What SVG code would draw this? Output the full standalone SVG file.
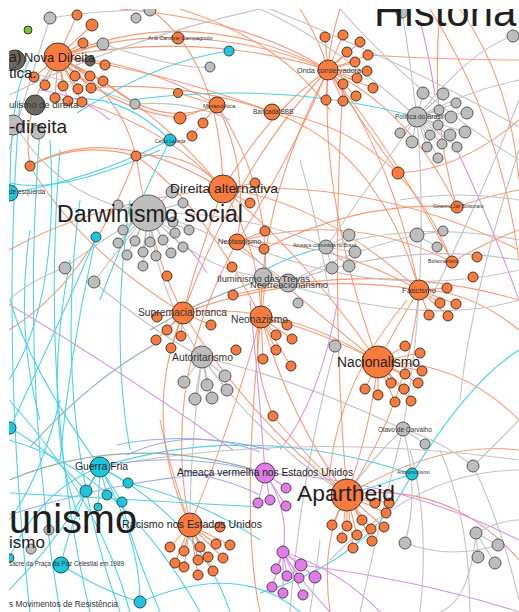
<svg xmlns="http://www.w3.org/2000/svg" width="519" height="612" viewBox="0 0 519 612">
<defs>
<clipPath id="cp"><rect x="9" y="9" width="510" height="603"/></clipPath>
<style>
.e path{fill:none;stroke-width:1.1}
.o{stroke:#f8885e;opacity:.85}
.r{stroke:#f07878;opacity:.85}
.g{stroke:#c2c2c2}
.c{stroke:#4dd2e8}
.p{stroke:#d495e2}
.b{stroke:#96aaf0}
.t{stroke:#8fb0a6}
circle{stroke-width:1}
.no{fill:#f97b3d;stroke:#4a3426}
.ng{fill:#bdbdbd;stroke:#555}
.nc{fill:#1cc6dc;stroke:#264f57}
.np{fill:#e07ce6;stroke:#5b3a5e}
.nd{fill:#6f675f;stroke:#333}
.nv{fill:#75c62a;stroke:#334}
text{font-family:"Liberation Sans",Arial,sans-serif;fill:#1e1e1e}
.s{fill:#333}
</style>
</defs>
<rect width="519" height="612" fill="#fff"/>
<g clip-path="url(#cp)">
<g id="connectors" class="e">
<!-- orange -->
<path class="o" d="M58 57 Q190 0 328 70"/>
<path class="o" d="M58 57 Q200 30 328 70"/>
<path class="o" d="M58 57 Q140 60 217 105"/>
<path class="o" d="M58 57 Q160 70 272 112"/>
<path class="o" d="M58 57 Q120 35 178 38"/>
<path class="o" d="M58 57 Q150 100 223 189"/>
<path class="o" d="M58 57 Q110 110 180 118"/>
<path class="o" d="M90 88 Q180 80 272 112"/>
<path class="o" d="M103 81 Q160 130 217 105"/>
<path class="o" d="M82 102 Q170 130 223 189"/>
<path class="o" d="M30 166 Q110 120 223 189"/>
<path class="o" d="M30 166 Q80 250 183 313"/>
<path class="o" d="M136 156 Q190 150 223 189"/>
<path class="o" d="M136 156 Q150 250 183 313"/>
<path class="o" d="M136 156 Q200 200 261 317"/>
<path class="o" d="M328 70 Q270 110 223 189"/>
<path class="o" d="M328 70 Q290 160 237 242"/>
<path class="o" d="M328 70 Q320 200 378 362"/>
<path class="o" d="M328 70 Q390 150 419 290"/>
<path class="o" d="M328 70 Q410 110 457 207"/>
<path class="o" d="M328 70 Q400 160 452 262"/>
<path class="o" d="M328 70 Q360 120 398 173"/>
<path class="o" d="M328 70 Q260 200 261 317"/>
<path class="o" d="M328 70 Q240 160 183 313"/>
<path class="o" d="M343 84 Q330 300 347 495"/>
<path class="o" d="M217 105 Q250 170 237 242"/>
<path class="o" d="M217 105 Q280 200 261 317"/>
<path class="o" d="M272 112 Q400 130 452 262"/>
<path class="o" d="M272 112 Q380 150 419 290"/>
<path class="o" d="M223 189 Q200 250 183 313"/>
<path class="o" d="M223 189 Q260 250 261 317"/>
<path class="o" d="M223 189 Q300 250 378 362"/>
<path class="o" d="M223 189 Q320 200 419 290"/>
<path class="o" d="M223 189 Q380 180 519 250"/>
<path class="o" d="M237 242 Q330 240 419 290"/>
<path class="o" d="M237 242 Q300 300 378 362"/>
<path class="o" d="M183 313 Q280 300 378 362"/>
<path class="o" d="M183 313 Q250 420 347 495"/>
<path class="o" d="M183 313 Q140 420 190 525"/>
<path class="o" d="M261 317 Q320 330 378 362"/>
<path class="o" d="M261 317 Q230 430 190 525"/>
<path class="o" d="M261 317 Q290 420 347 495"/>
<path class="o" d="M378 362 Q370 430 347 495"/>
<path class="o" d="M378 362 Q400 320 419 290"/>
<path class="o" d="M419 290 Q410 400 347 495"/>
<path class="o" d="M419 290 Q470 290 519 330"/>
<path class="o" d="M452 262 Q490 240 519 230"/>
<path class="o" d="M457 207 Q490 195 519 190"/>
<path class="o" d="M378 362 Q460 360 519 420"/>
<path class="o" d="M460 9 Q510 80 519 180"/>
<path class="o" d="M430 9 Q500 120 519 260"/>
<path class="o" d="M407 300 Q340 380 330 470"/>
<path class="o" d="M190 525 Q160 380 237 242"/>
<path class="o" d="M30 166 Q80 140 136 156"/>
<path class="o" d="M273 416 Q250 360 261 317"/>
<path class="o" d="M273 416 Q310 460 347 495"/>
<path class="o" d="M120 9 Q250 20 328 70"/>
<path class="o" d="M180 9 Q280 40 330 110"/>
<path class="o" d="M58 57 Q20 110 30 166"/>
<path class="o" d="M150 9 Q220 60 223 189"/>
<path class="o" d="M237 242 Q350 210 452 262"/>
<path class="o" d="M183 313 Q300 270 419 290"/>
<path class="o" d="M264 249 Q360 200 457 207"/>
<path class="o" d="M233 295 Q380 260 519 300"/>
<path class="o" d="M9 250 Q100 200 223 189"/>
<path class="o" d="M9 330 Q90 280 136 156"/>
<path class="o" d="M330 612 Q320 540 347 495"/>
<path class="o" d="M260 612 Q240 520 261 317"/>
<path class="o" d="M190 525 Q170 470 160 420"/>
<path class="o" d="M398 173 Q460 170 519 120"/>
<path class="o" d="M368 55 Q450 60 519 60"/>
<path class="o" d="M440 9 Q430 120 457 207"/>
<path class="o" d="M300 9 Q320 40 328 70"/>
<path class="o" d="M340 9 Q330 40 328 70"/>
<path class="o" d="M347 495 Q440 440 519 450"/>
<path class="r" d="M347 495 Q450 480 519 560"/>
<path class="o" d="M136 156 Q120 90 58 57"/>
<path class="o" d="M178 38 Q260 40 328 70"/>
<!-- orange spokes -->
<path class="o" d="M58 57L77 15M58 57L92 25M58 57L83 43M58 57L105 65M58 57L34 77M58 57L45 85M58 57L75 76M58 57L90 76M58 57L63 86M58 57L78 89M58 57L91 88M58 57L103 81M58 57L55 98M58 57L68 101M58 57L82 102M58 57L90 61M58 57L103 44"/>
<path class="o" d="M328 70L325 37M328 70L343 35M328 70L360 42M328 70L347 52M328 70L368 55M328 70L355 62M328 70L367 71M328 70L357 78M328 70L343 84M328 70L373 88M328 70L356 96M328 70L326 100M328 70L343 101"/>
<path class="o" d="M183 313L157 317M183 313L167 330M183 313L181 336M183 313L156 340M183 313L171 348M183 313L211 325"/>
<path class="o" d="M261 317L287 325M261 317L276 335M261 317L292 339M261 317L276 350M261 317L263 359M261 317L291 366"/>
<path class="o" d="M378 362L405 346M378 362L420 353M378 362L405 374M378 362L422 371M378 362L418 383M378 362L391 383M378 362L404 389M378 362L365 389M378 362L378 395M378 362L395 402M378 362L411 401"/>
<path class="o" d="M419 290L440 303M419 290L456 304M419 290L429 315M419 290L448 316M419 290L447 288"/>
<path class="o" d="M190 525L220 527M190 525L170 547M190 525L184 551M190 525L200 547M190 525L216 544M190 525L230 545M190 525L175 563M190 525L184 567M190 525L198 560M190 525L208 557M190 525L223 558M190 525L213 571M190 525L198 575"/>
<path class="o" d="M347 495L375 503M347 495L389 503M347 495L386 513M347 495L362 520M347 495L347 526M347 495L332 525M347 495L371 529M347 495L384 527M347 495L357 535M347 495L342 538M347 495L372 541M347 495L353 548"/>
<path class="o" d="M237 242L265 231M237 242L264 249M223 189L255 183M223 189L250 203M217 105L203 123M217 105L192 136M217 105L180 118M217 105L178 93"/>
<!-- gray -->
<path class="g" d="M148 213 Q220 230 288 283"/>
<path class="g" d="M148 213 Q200 270 263 277"/>
<path class="g" d="M148 213 Q160 300 202 357"/>
<path class="g" d="M148 213 Q240 210 326 247"/>
<path class="g" d="M148 213 Q100 240 65 268"/>
<path class="g" d="M148 213 Q110 260 94 282"/>
<path class="g" d="M15 125 Q60 200 148 213"/>
<path class="g" d="M417 117 Q380 170 326 247"/>
<path class="g" d="M417 117 Q430 280 403 429"/>
<path class="g" d="M417 117 Q470 90 519 80"/>
<path class="g" d="M417 117 Q330 40 260 9"/>
<path class="g" d="M260 5 Q400 60 519 127"/>
<path class="g" d="M202 357 Q300 380 403 429"/>
<path class="g" d="M202 357 Q260 440 347 495"/>
<path class="g" d="M202 357 Q190 450 190 525"/>
<path class="g" d="M288 283 Q400 240 519 260"/>
<path class="g" d="M288 283 Q350 250 417 235"/>
<path class="g" d="M263 277 Q420 330 519 300"/>
<path class="g" d="M326 247 Q420 220 519 240"/>
<path class="g" d="M403 429 Q370 460 347 495"/>
<path class="g" d="M403 429 Q440 440 473 466"/>
<path class="g" d="M403 429 Q420 490 405 543"/>
<path class="g" d="M405 543 Q450 560 498 545"/>
<path class="g" d="M476 533 Q500 520 519 520"/>
<path class="g" d="M440 450 Q470 520 470 612"/>
<path class="g" d="M410 450 Q430 520 420 612"/>
<path class="g" d="M320 540 Q315 580 310 612"/>
<path class="g" d="M519 100 Q480 200 430 300"/>
<path class="g" d="M519 150 Q470 300 460 400"/>
<path class="g" d="M9 95 Q120 40 260 9"/>
<path class="g" d="M9 70 Q80 80 135 104"/>
<path class="g" d="M94 282 Q150 330 202 357"/>
<path class="g" d="M65 268 Q30 280 9 300"/>
<path class="g" d="M260 250 Q390 300 519 270"/>
<path class="g" d="M300 160 Q320 230 330 300"/>
<path class="g" d="M473 466 Q500 440 519 420"/>
<path class="g" d="M473 466 Q500 520 519 600"/>
<path class="g" d="M360 612 Q380 520 403 429"/>
<path class="g" d="M290 612 Q300 480 335 346"/>
<path class="g" d="M9 150 Q30 80 50 18"/>
<path class="g" d="M50 18 Q100 10 150 10"/>
<path class="g" d="M103 44 Q180 70 210 67"/>
<path class="g" d="M135 104 Q190 100 230 120"/>
<path class="g" d="M513 36 Q470 50 417 117"/>
<path class="g" d="M402 12 Q410 60 417 117"/>
<path class="g" d="M340 9 Q420 100 519 160"/>
<path class="g" d="M400 200 Q460 190 519 200"/>
<path class="g" d="M330 560 Q420 470 519 470"/>
<path class="g" d="M476 533 Q470 600 440 612"/>
<path class="g" d="M100 467 Q300 430 519 460"/>
<!-- gray spokes -->
<path class="g" d="M148 213L172 192M148 213L118 205M148 213L183 203M148 213L173 222M148 213L189 230M148 213L123 230M148 213L175 233M148 213L118 243M148 213L135 241M148 213L150 242M148 213L163 240M148 213L183 247M148 213L127 255M148 213L143 252M148 213L156 256M148 213L171 253M148 213L143 266"/>
<path class="g" d="M417 117L423 93M417 117L443 94M417 117L456 103M417 117L439 110M417 117L467 113M417 117L451 117M417 117L438 125M417 117L400 133M417 117L412 142M417 117L430 135M417 117L450 135M417 117L465 132M417 117L427 147M417 117L442 144M417 117L457 147M417 117L438 158"/>
<path class="g" d="M202 357L184 382M202 357L207 385M202 357L225 376M202 357L227 390M202 357L195 399M202 357L212 398"/>
<path class="g" d="M326 247L349 235M326 247L355 252M326 247L332 268M326 247L349 266M417 235L443 231M417 235L437 247M476 533L498 545M476 533L478 557M476 533L495 563M403 429L425 444"/>
<!-- cyan -->
<path class="c" d="M20 100 Q0 350 30 612"/>
<path class="c" d="M40 130 Q20 380 60 612"/>
<path class="c" d="M60 150 Q40 400 90 612"/>
<path class="c" d="M80 200 Q50 420 120 612"/>
<path class="c" d="M96 237 Q70 350 60 460"/>
<path class="c" d="M96 237 Q70 300 10 428"/>
<path class="c" d="M100 467 Q30 370 10 300"/>
<path class="c" d="M100 467 Q40 490 9 558"/>
<path class="c" d="M100 467 Q140 540 140 602"/>
<path class="c" d="M100 467 Q70 520 61 565"/>
<path class="c" d="M170 140 Q90 180 10 193"/>
<path class="c" d="M77 113 Q160 60 229 51"/>
<path class="c" d="M130 100 Q280 80 417 117"/>
<path class="c" d="M10 183 Q60 195 160 150"/>
<path class="c" d="M170 140 Q130 220 100 300"/>
<path class="c" d="M260 273 Q290 255 326 247"/>
<path class="c" d="M412 474 Q470 380 519 350"/>
<path class="c" d="M412 474 Q370 560 260 593"/>
<path class="c" d="M412 474 Q380 485 347 495"/>
<path class="c" d="M10 493 Q130 500 260 507"/>
<path class="c" d="M100 467 Q250 420 412 474"/>
<path class="c" d="M61 565 Q100 590 140 602"/>
<path class="c" d="M9 440 Q120 470 200 612"/>
<path class="c" d="M100 467 Q200 520 230 612"/>
<path class="c" d="M9 400 Q100 500 130 612"/>
<path class="c" d="M30 60 Q10 90 10 193"/>
<path class="c" d="M50 140 Q60 300 9 380"/>
<path class="c" d="M130 200 Q110 340 130 450"/>
<path class="c" d="M10 428 Q50 450 86 491"/>
<path class="c" d="M128 483 Q200 500 260 540"/>
<path class="c" d="M9 590 Q60 540 100 467"/>
<path class="c" d="M160 612 Q130 540 122 502"/>
<path class="c" d="M140 602 Q240 560 300 612"/>
<path class="c" d="M170 140 Q120 90 60 100"/>
<path class="c" d="M30 230 Q15 330 40 420"/>
<path class="c" d="M70 260 Q40 420 80 520"/>
<path class="c" d="M9 520 Q40 480 60 400"/>
<path class="c" d="M100 467L86 491M100 467L128 483M100 467L107 495M100 467L122 502M100 467L98 507"/>
<!-- purple -->
<path class="p" d="M7 303 Q120 370 233 450"/>
<path class="p" d="M420 20 Q430 60 435 95"/>
<path class="p" d="M338 300 Q320 400 280 450"/>
<path class="p" d="M265 473 Q400 480 519 540"/>
<path class="p" d="M265 473 Q290 510 283 552"/>
<path class="p" d="M283 552 Q340 570 380 612"/>
<path class="p" d="M283 552 Q300 580 330 612"/>
<path class="p" d="M301 565 Q420 580 519 612"/>
<path class="p" d="M457 150 Q490 220 519 300"/>
<path class="p" d="M187 247 Q200 260 207 273"/>
<path class="p" d="M250 300 Q260 400 265 473"/>
<path class="p" d="M40 90 Q80 95 110 120"/>
<path class="p" d="M283 552L301 565M283 552L276 569M283 552L287 576M283 552L299 578M283 552L315 577M283 552L272 587M283 552L283 593M283 552L303 595M265 473L286 488M265 473L258 503M265 473L270 500M265 473L286 506"/>
<!-- blue -->
<path class="b" d="M127 455 Q190 425 260 452"/>
<path class="b" d="M117 445 Q190 430 270 450"/>
<path class="b" d="M100 467 Q180 450 265 473"/>
<path class="b" d="M180 470 Q230 480 260 495"/>
<path class="b" d="M9 515 Q150 470 265 473"/>
<!-- gray-green -->
<path class="t" d="M30 447 Q90 380 157 343"/>
<path class="t" d="M9 480 Q130 430 265 473"/>
<path class="t" d="M260 280 Q200 300 150 330"/>
</g>
<g id="nodes">
<g id="n-o1"><circle class="no" cx="77" cy="15" r="5"/></g>
<g id="n-o2"><circle class="no" cx="92" cy="25" r="6"/></g>
<g id="n-o3"><circle class="no" cx="83" cy="43" r="5"/></g>
<g id="n-o4"><circle class="no" cx="105" cy="65" r="5"/></g>
<g id="n-o5"><circle class="no" cx="34" cy="77" r="5"/></g>
<g id="n-o6"><circle class="no" cx="45" cy="85" r="5"/></g>
<g id="n-o7"><circle class="no" cx="75" cy="76" r="5"/></g>
<g id="n-o8"><circle class="no" cx="90" cy="76" r="5"/></g>
<g id="n-o9"><circle class="no" cx="63" cy="86" r="5"/></g>
<g id="n-o10"><circle class="no" cx="78" cy="89" r="5"/></g>
<g id="n-o11"><circle class="no" cx="91" cy="88" r="5"/></g>
<g id="n-o12"><circle class="no" cx="103" cy="81" r="5"/></g>
<g id="n-o13"><circle class="no" cx="55" cy="98" r="5"/></g>
<g id="n-o14"><circle class="no" cx="68" cy="101" r="5"/></g>
<g id="n-o15"><circle class="no" cx="82" cy="102" r="5"/></g>
<g id="n-o16"><circle class="no" cx="178" cy="93" r="4.5"/></g>
<g id="n-o17"><circle class="no" cx="180" cy="118" r="6"/></g>
<g id="n-o18"><circle class="no" cx="203" cy="123" r="5"/></g>
<g id="n-o19"><circle class="no" cx="192" cy="136" r="5"/></g>
<g id="n-o20"><circle class="no" cx="325" cy="37" r="5"/></g>
<g id="n-o21"><circle class="no" cx="343" cy="35" r="5"/></g>
<g id="n-o22"><circle class="no" cx="360" cy="42" r="5"/></g>
<g id="n-o23"><circle class="no" cx="347" cy="52" r="5"/></g>
<g id="n-o24"><circle class="no" cx="368" cy="55" r="5"/></g>
<g id="n-o25"><circle class="no" cx="355" cy="62" r="5"/></g>
<g id="n-o26"><circle class="no" cx="367" cy="71" r="5"/></g>
<g id="n-o27"><circle class="no" cx="357" cy="78" r="5"/></g>
<g id="n-o28"><circle class="no" cx="343" cy="84" r="5"/></g>
<g id="n-o29"><circle class="no" cx="373" cy="88" r="5"/></g>
<g id="n-o30"><circle class="no" cx="356" cy="96" r="5"/></g>
<g id="n-o31"><circle class="no" cx="326" cy="100" r="5"/></g>
<g id="n-o32"><circle class="no" cx="343" cy="101" r="5"/></g>
<g id="n-o33"><circle class="no" cx="30" cy="166" r="5"/></g>
<g id="n-o34"><circle class="no" cx="136" cy="156" r="5"/></g>
<g id="n-o35"><circle class="no" cx="255" cy="183" r="5"/></g>
<g id="n-o36"><circle class="no" cx="250" cy="203" r="5"/></g>
<g id="n-o37"><circle class="no" cx="265" cy="231" r="5"/></g>
<g id="n-o38"><circle class="no" cx="264" cy="249" r="5"/></g>
<g id="n-o39"><circle class="no" cx="232" cy="267" r="5"/></g>
<g id="n-o40"><circle class="no" cx="167" cy="276" r="5"/></g>
<g id="n-o41"><circle class="no" cx="233" cy="295" r="5"/></g>
<g id="n-o42"><circle class="no" cx="398" cy="173" r="6"/></g>
<g id="n-o44"><circle class="no" cx="477" cy="257" r="5"/></g>
<g id="n-o45"><circle class="no" cx="473" cy="277" r="5"/></g>
<g id="n-o46"><circle class="no" cx="447" cy="288" r="5"/></g>
<g id="n-o47"><circle class="no" cx="157" cy="317" r="5"/></g>
<g id="n-o48"><circle class="no" cx="167" cy="330" r="5"/></g>
<g id="n-o49"><circle class="no" cx="181" cy="336" r="5"/></g>
<g id="n-o50"><circle class="no" cx="156" cy="340" r="5"/></g>
<g id="n-o51"><circle class="no" cx="171" cy="348" r="5"/></g>
<g id="n-o52"><circle class="no" cx="211" cy="325" r="5"/></g>
<g id="n-o53"><circle class="no" cx="236" cy="350" r="5"/></g>
<g id="n-o54"><circle class="no" cx="287" cy="325" r="5"/></g>
<g id="n-o55"><circle class="no" cx="276" cy="335" r="5"/></g>
<g id="n-o56"><circle class="no" cx="292" cy="339" r="5"/></g>
<g id="n-o57"><circle class="no" cx="276" cy="350" r="5"/></g>
<g id="n-o58"><circle class="no" cx="263" cy="359" r="5"/></g>
<g id="n-o59"><circle class="no" cx="291" cy="366" r="5"/></g>
<g id="n-o60"><circle class="no" cx="440" cy="303" r="5"/></g>
<g id="n-o61"><circle class="no" cx="456" cy="304" r="5"/></g>
<g id="n-o62"><circle class="no" cx="429" cy="315" r="5"/></g>
<g id="n-o63"><circle class="no" cx="448" cy="316" r="5"/></g>
<g id="n-o64"><circle class="no" cx="405" cy="346" r="5"/></g>
<g id="n-o65"><circle class="no" cx="420" cy="353" r="5"/></g>
<g id="n-o66"><circle class="no" cx="405" cy="374" r="5"/></g>
<g id="n-o67"><circle class="no" cx="422" cy="371" r="5"/></g>
<g id="n-o68"><circle class="no" cx="418" cy="383" r="5"/></g>
<g id="n-o69"><circle class="no" cx="391" cy="383" r="5"/></g>
<g id="n-o70"><circle class="no" cx="404" cy="389" r="5"/></g>
<g id="n-o71"><circle class="no" cx="365" cy="389" r="5"/></g>
<g id="n-o72"><circle class="no" cx="378" cy="395" r="5"/></g>
<g id="n-o73"><circle class="no" cx="395" cy="402" r="5"/></g>
<g id="n-o74"><circle class="no" cx="411" cy="401" r="5"/></g>
<g id="n-o75"><circle class="no" cx="273" cy="416" r="5"/></g>
<g id="n-o76"><circle class="no" cx="220" cy="527" r="5"/></g>
<g id="n-o77"><circle class="no" cx="170" cy="547" r="5"/></g>
<g id="n-o78"><circle class="no" cx="184" cy="551" r="5"/></g>
<g id="n-o79"><circle class="no" cx="200" cy="547" r="5"/></g>
<g id="n-o80"><circle class="no" cx="216" cy="544" r="5"/></g>
<g id="n-o81"><circle class="no" cx="230" cy="545" r="5"/></g>
<g id="n-o82"><circle class="no" cx="175" cy="563" r="5"/></g>
<g id="n-o83"><circle class="no" cx="184" cy="567" r="5"/></g>
<g id="n-o84"><circle class="no" cx="198" cy="560" r="5"/></g>
<g id="n-o85"><circle class="no" cx="208" cy="557" r="5"/></g>
<g id="n-o86"><circle class="no" cx="223" cy="558" r="5"/></g>
<g id="n-o87"><circle class="no" cx="213" cy="571" r="5"/></g>
<g id="n-o88"><circle class="no" cx="198" cy="575" r="5"/></g>
<g id="n-o89"><circle class="no" cx="375" cy="503" r="5"/></g>
<g id="n-o90"><circle class="no" cx="389" cy="503" r="5"/></g>
<g id="n-o91"><circle class="no" cx="386" cy="513" r="5"/></g>
<g id="n-o92"><circle class="no" cx="362" cy="520" r="5"/></g>
<g id="n-o93"><circle class="no" cx="347" cy="526" r="5"/></g>
<g id="n-o94"><circle class="no" cx="332" cy="525" r="5"/></g>
<g id="n-o95"><circle class="no" cx="371" cy="529" r="5"/></g>
<g id="n-o96"><circle class="no" cx="384" cy="527" r="5"/></g>
<g id="n-o97"><circle class="no" cx="357" cy="535" r="5"/></g>
<g id="n-o98"><circle class="no" cx="342" cy="538" r="5"/></g>
<g id="n-o99"><circle class="no" cx="372" cy="541" r="5"/></g>
<g id="n-o100"><circle class="no" cx="353" cy="548" r="5"/></g>
<g id="n-g1"><circle class="ng" cx="50" cy="18" r="6"/></g>
<g id="n-g2"><circle class="ng" cx="136" cy="18" r="5"/></g>
<g id="n-g3"><circle class="ng" cx="150" cy="10" r="6"/></g>
<g id="n-g4"><circle class="ng" cx="103" cy="44" r="6"/></g>
<g id="n-g5"><circle class="ng" cx="210" cy="67" r="5"/></g>
<g id="n-g6"><circle class="ng" cx="135" cy="104" r="5"/></g>
<g id="n-g7"><circle class="ng" cx="38" cy="132" r="7"/></g>
<g id="n-g8"><circle class="ng" cx="13" cy="125" r="10"/></g>
<g id="n-g9"><circle class="ng" cx="172" cy="192" r="6"/></g>
<g id="n-g10"><circle class="ng" cx="118" cy="205" r="5"/></g>
<g id="n-g11"><circle class="ng" cx="183" cy="203" r="5"/></g>
<g id="n-g12"><circle class="ng" cx="173" cy="222" r="5"/></g>
<g id="n-g13"><circle class="ng" cx="189" cy="230" r="5"/></g>
<g id="n-g14"><circle class="ng" cx="123" cy="230" r="5"/></g>
<g id="n-g15"><circle class="ng" cx="175" cy="233" r="5"/></g>
<g id="n-g16"><circle class="ng" cx="118" cy="243" r="5"/></g>
<g id="n-g17"><circle class="ng" cx="135" cy="241" r="5"/></g>
<g id="n-g18"><circle class="ng" cx="150" cy="242" r="5"/></g>
<g id="n-g19"><circle class="ng" cx="163" cy="240" r="5"/></g>
<g id="n-g20"><circle class="ng" cx="183" cy="247" r="5"/></g>
<g id="n-g21"><circle class="ng" cx="127" cy="255" r="5"/></g>
<g id="n-g22"><circle class="ng" cx="143" cy="252" r="5"/></g>
<g id="n-g23"><circle class="ng" cx="156" cy="256" r="5"/></g>
<g id="n-g24"><circle class="ng" cx="171" cy="253" r="5"/></g>
<g id="n-g25"><circle class="ng" cx="143" cy="266" r="5"/></g>
<g id="n-g26"><circle class="ng" cx="65" cy="268" r="6"/></g>
<g id="n-g27"><circle class="ng" cx="94" cy="282" r="6"/></g>
<g id="n-g28"><circle class="ng" cx="423" cy="93" r="6"/></g>
<g id="n-g29"><circle class="ng" cx="443" cy="94" r="6"/></g>
<g id="n-g30"><circle class="ng" cx="456" cy="103" r="5"/></g>
<g id="n-g31"><circle class="ng" cx="439" cy="110" r="5"/></g>
<g id="n-g32"><circle class="ng" cx="467" cy="113" r="6"/></g>
<g id="n-g33"><circle class="ng" cx="451" cy="117" r="6"/></g>
<g id="n-g34"><circle class="ng" cx="438" cy="125" r="5"/></g>
<g id="n-g35"><circle class="ng" cx="400" cy="133" r="5"/></g>
<g id="n-g36"><circle class="ng" cx="412" cy="142" r="6"/></g>
<g id="n-g37"><circle class="ng" cx="430" cy="135" r="5"/></g>
<g id="n-g38"><circle class="ng" cx="450" cy="135" r="6"/></g>
<g id="n-g39"><circle class="ng" cx="465" cy="132" r="6"/></g>
<g id="n-g40"><circle class="ng" cx="427" cy="147" r="5"/></g>
<g id="n-g41"><circle class="ng" cx="442" cy="144" r="5"/></g>
<g id="n-g42"><circle class="ng" cx="457" cy="147" r="5"/></g>
<g id="n-g43"><circle class="ng" cx="438" cy="158" r="5"/></g>
<g id="n-g44"><circle class="ng" cx="513" cy="36" r="6"/></g>
<g id="n-g45"><circle class="ng" cx="402" cy="12" r="6"/></g>
<g id="n-g46"><circle class="ng" cx="417" cy="235" r="7"/></g>
<g id="n-g47"><circle class="ng" cx="443" cy="231" r="5"/></g>
<g id="n-g48"><circle class="ng" cx="437" cy="247" r="5"/></g>
<g id="n-g49"><circle class="ng" cx="349" cy="235" r="6"/></g>
<g id="n-g50"><circle class="ng" cx="355" cy="252" r="6"/></g>
<g id="n-g51"><circle class="ng" cx="332" cy="268" r="6"/></g>
<g id="n-g52"><circle class="ng" cx="349" cy="266" r="6"/></g>
<g id="n-g53"><circle class="ng" cx="184" cy="382" r="6"/></g>
<g id="n-g54"><circle class="ng" cx="207" cy="385" r="6"/></g>
<g id="n-g55"><circle class="ng" cx="225" cy="376" r="6"/></g>
<g id="n-g56"><circle class="ng" cx="227" cy="390" r="6"/></g>
<g id="n-g57"><circle class="ng" cx="195" cy="399" r="6"/></g>
<g id="n-g58"><circle class="ng" cx="212" cy="398" r="6"/></g>
<g id="n-g59"><circle class="ng" cx="298" cy="303" r="5"/></g>
<g id="n-g60"><circle class="ng" cx="335" cy="346" r="6"/></g>
<g id="n-g61"><circle class="ng" cx="425" cy="444" r="5"/></g>
<g id="n-g62"><circle class="ng" cx="49" cy="530" r="5"/></g>
<g id="n-g63"><circle class="ng" cx="31" cy="549" r="5"/></g>
<g id="n-g64"><circle class="ng" cx="473" cy="466" r="6"/></g>
<g id="n-g65"><circle class="ng" cx="405" cy="543" r="6"/></g>
<g id="n-g66"><circle class="ng" cx="476" cy="533" r="6"/></g>
<g id="n-g67"><circle class="ng" cx="498" cy="545" r="6"/></g>
<g id="n-g68"><circle class="ng" cx="478" cy="557" r="6"/></g>
<g id="n-g69"><circle class="ng" cx="495" cy="563" r="6"/></g>
<g id="n-d1"><circle class="nd" cx="15" cy="60" r="10"/></g>
<g id="n-d2"><circle class="nd" cx="90" cy="61" r="5"/></g>
<g id="populismo-de-direita"><circle class="nd" cx="35" cy="105" r="10"/></g>
<g id="n-v1"><circle class="nv" cx="28" cy="30" r="4"/></g>
<g id="n-c1"><circle class="nc" cx="229" cy="51" r="5"/></g>
<g id="n-c3"><circle class="nc" cx="10" cy="193" r="8"/></g>
<g id="n-c4"><circle class="nc" cx="96" cy="237" r="5"/></g>
<g id="n-c5"><circle class="nc" cx="10" cy="428" r="6"/></g>
<g id="n-c6"><circle class="nc" cx="86" cy="491" r="6"/></g>
<g id="n-c7"><circle class="nc" cx="128" cy="483" r="5"/></g>
<g id="n-c8"><circle class="nc" cx="107" cy="495" r="5"/></g>
<g id="n-c9"><circle class="nc" cx="122" cy="502" r="5"/></g>
<g id="n-c10"><circle class="nc" cx="98" cy="507" r="4"/></g>
<g id="n-c11"><circle class="nc" cx="10" cy="558" r="4"/></g>
<g id="n-c13"><circle class="nc" cx="140" cy="602" r="6"/></g>
<g id="n-p2"><circle class="np" cx="286" cy="488" r="5"/></g>
<g id="n-p3"><circle class="np" cx="258" cy="503" r="5"/></g>
<g id="n-p4"><circle class="np" cx="270" cy="500" r="5"/></g>
<g id="n-p5"><circle class="np" cx="286" cy="506" r="5"/></g>
<g id="n-p6"><circle class="np" cx="283" cy="552" r="6"/></g>
<g id="n-p7"><circle class="np" cx="301" cy="565" r="6"/></g>
<g id="n-p8"><circle class="np" cx="276" cy="569" r="5"/></g>
<g id="n-p9"><circle class="np" cx="287" cy="576" r="5"/></g>
<g id="n-p10"><circle class="np" cx="299" cy="578" r="5"/></g>
<g id="n-p11"><circle class="np" cx="315" cy="577" r="6"/></g>
<g id="n-p12"><circle class="np" cx="272" cy="587" r="5"/></g>
<g id="n-p13"><circle class="np" cx="283" cy="593" r="5"/></g>
<g id="n-p14"><circle class="np" cx="303" cy="595" r="5"/></g>
<g id="ana-caroline"><circle class="no" cx="178" cy="38" r="6"/><text class="s" x="148" y="40" font-size="5.5">Ana Caroline Campagnolo</text></g>
<g id="carlos-lacerda"><circle class="nc" cx="170" cy="140" r="6"/><text class="s" x="155" y="143" font-size="4.5">Carlos Lacerda</text></g>
<g id="metapolitica"><circle class="no" cx="217" cy="105" r="8"/><text class="s" x="203" y="108" font-size="6">Metapolítica</text></g>
<g id="bancada-bbb"><circle class="no" cx="272" cy="112" r="8"/><text class="s" x="253" y="114" font-size="6.5">Bancada BBB</text></g>
<g id="onda-conservadora"><circle class="no" cx="328" cy="70" r="10"/><text class="s" x="297" y="73" font-size="7.3">Onda conservadora</text></g>
<g id="politica-do-brasil"><circle class="ng" cx="417" cy="117" r="10"/><text class="s" x="395" y="119" font-size="6.5">Política do Brasil</text></g>
<g id="governo-bolsonaro"><circle class="no" cx="457" cy="207" r="6"/><text class="s" x="433" y="208" font-size="4.8">Governo Jair Bolsonaro</text></g>
<g id="bolsonarismo"><circle class="no" cx="452" cy="262" r="6"/><text class="s" x="428" y="263" font-size="5.2">Bolsonarismo</text></g>
<g id="ameaca-comunista"><circle class="ng" cx="326" cy="247" r="7"/><text class="s" x="293" y="247" font-size="5">Ameaça comunista no Brasil</text></g>
<g id="anticomunismo"><circle class="nc" cx="412" cy="474" r="6"/><text class="s" x="397" y="474" font-size="4.8">Anticomunismo</text></g>
<g id="fascismo"><circle class="no" cx="419" cy="290" r="10"/><text class="s" x="402" y="293" font-size="8">Fascismo</text></g>
<g id="neofascismo"><circle class="no" cx="237" cy="242" r="8"/><text class="s" x="218" y="244" font-size="7.5">Neofascismo</text></g>
<g id="olavo"><circle class="ng" cx="403" cy="429" r="7"/><text class="s" x="378" y="432" font-size="6.5">Olavo de Carvalho</text></g>
<g id="nova-direita"><circle class="no" cx="58" cy="57" r="14"/><text x="9" y="62" font-size="14">a)</text><text x="24" y="62" font-size="13.5" textLength="71" lengthAdjust="spacingAndGlyphs">Nova Direita</text><text x="9" y="78" font-size="15">tica.</text></g>
<g id="populismo-label"><text class="s" x="9" y="108" font-size="9.5">ulismo de direita</text><text x="9" y="133" font-size="19">-direita</text><text class="s" x="9" y="194" font-size="6.5">de esquerda</text></g>
<g id="direita-alternativa"><circle class="no" cx="223" cy="189" r="14"/><text x="170" y="193" font-size="13.6" textLength="108" lengthAdjust="spacingAndGlyphs">Direita alternativa</text></g>
<g id="darwinismo-social"><circle class="ng" cx="148" cy="213" r="18"/><text x="57" y="222" font-size="23" textLength="186" lengthAdjust="spacingAndGlyphs">Darwinismo social</text></g>
<g id="iluminismo"><circle class="ng" cx="263" cy="277" r="9"/><circle class="ng" cx="288" cy="283" r="9"/><text class="s" x="217" y="282" font-size="9" textLength="93" lengthAdjust="spacingAndGlyphs">Iluminismo das Trevas</text><text class="s" x="250" y="288" font-size="9.2" textLength="78" lengthAdjust="spacingAndGlyphs">Neorreacionarismo</text></g>
<g id="supremacia-branca"><circle class="no" cx="183" cy="313" r="11"/><text class="s" x="138" y="316" font-size="10.5" textLength="89" lengthAdjust="spacingAndGlyphs">Supremacia branca</text></g>
<g id="neonazismo"><circle class="no" cx="261" cy="317" r="11"/><text class="s" x="231" y="323" font-size="10.5" textLength="57" lengthAdjust="spacingAndGlyphs">Neonazismo</text></g>
<g id="autoritarismo"><circle class="ng" cx="202" cy="357" r="11"/><text class="s" x="172" y="361" font-size="10.5" textLength="61" lengthAdjust="spacingAndGlyphs">Autoritarismo</text></g>
<g id="nacionalismo"><circle class="no" cx="378" cy="362" r="16"/><text x="337" y="367" font-size="14" textLength="83" lengthAdjust="spacingAndGlyphs">Nacionalismo</text></g>
<g id="guerra-fria"><circle class="nc" cx="100" cy="467" r="10"/><text x="75" y="470" font-size="10.5" textLength="53" lengthAdjust="spacingAndGlyphs">Guerra Fria</text></g>
<g id="ameaca-vermelha"><circle class="np" cx="265" cy="473" r="10"/><text x="177" y="476" font-size="10.3" textLength="176" lengthAdjust="spacingAndGlyphs">Ameaça vermelha nos Estados Unidos</text></g>
<g id="racismo-eua"><circle class="no" cx="190" cy="525" r="12"/><text x="122" y="528" font-size="10.7" textLength="140" lengthAdjust="spacingAndGlyphs">Racismo nos Estados Unidos</text></g>
<g id="apartheid"><circle class="no" cx="347" cy="495" r="16"/><text x="297" y="501" font-size="22.5" textLength="98" lengthAdjust="spacingAndGlyphs">Apartheid</text></g>
<g id="comunismo"><text x="9" y="533" font-size="40" textLength="128" lengthAdjust="spacingAndGlyphs">unismo</text><text x="9" y="548" font-size="17">ismo</text></g>
<g id="praca-paz"><circle class="nc" cx="61" cy="565" r="8"/><text class="s" x="9" y="566" font-size="6.3" textLength="115" lengthAdjust="spacingAndGlyphs">sacre da Praça da Paz Celestial em 1989</text></g>
<g id="movimentos"><text class="s" x="9" y="607" font-size="8.3" textLength="109" lengthAdjust="spacingAndGlyphs">s Movimentos de Resistência</text></g>
<g id="historia"><text x="374" y="26" font-size="42">História</text></g>
</g>
</g>
</svg>
